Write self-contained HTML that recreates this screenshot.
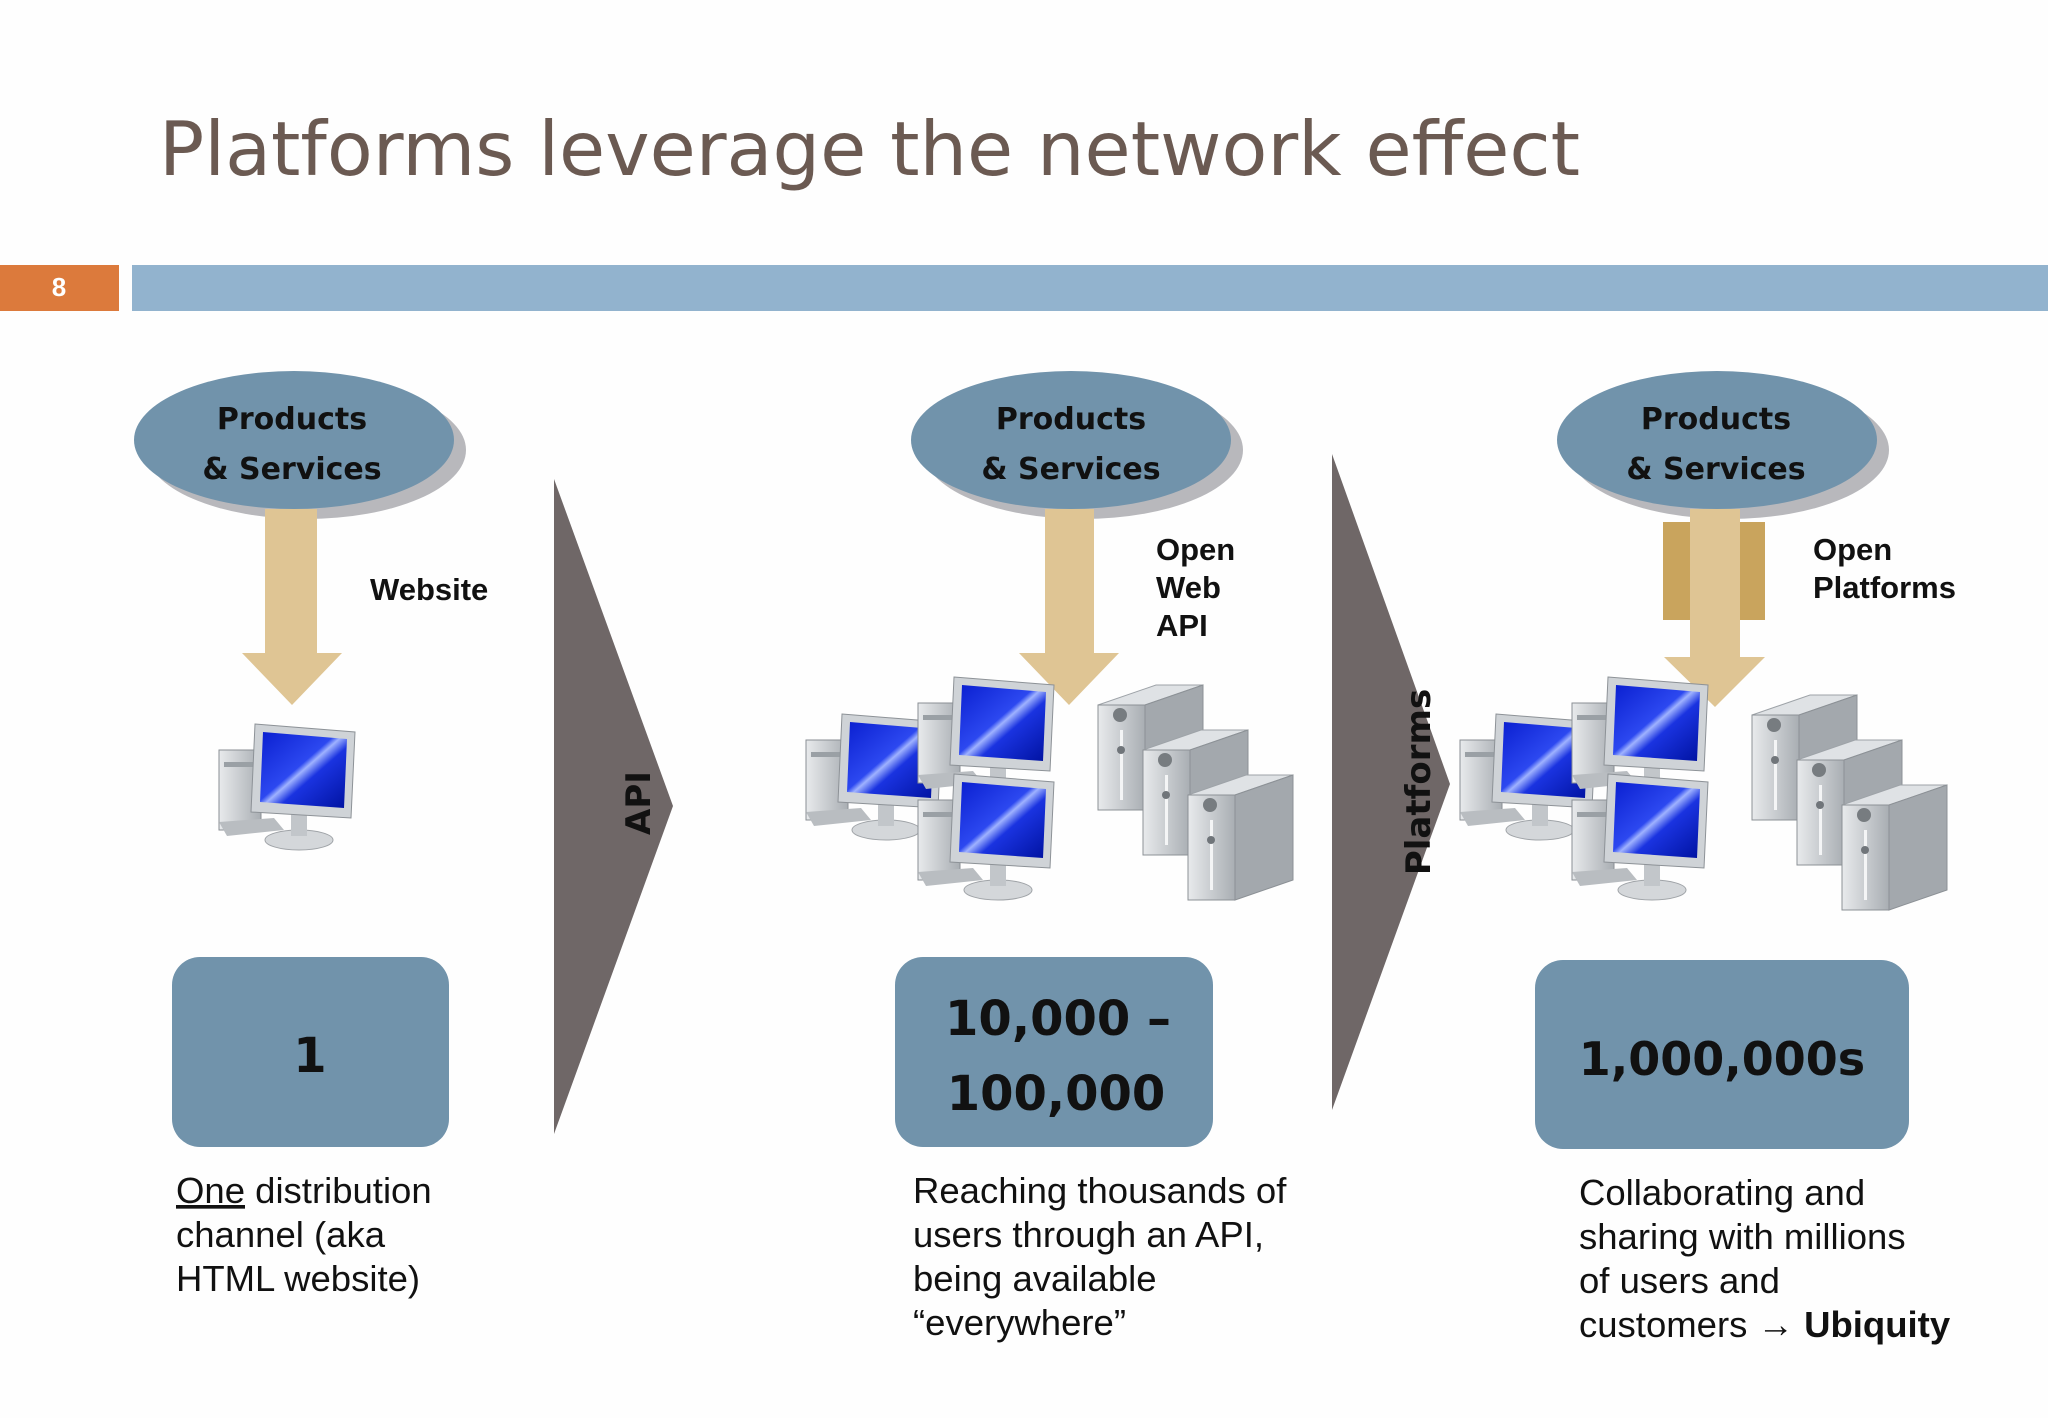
<!DOCTYPE html>
<html><head><meta charset="utf-8"><style>
html,body{margin:0;padding:0;background:#fff}
svg{display:block}
</style></head><body>
<svg width="2048" height="1418" viewBox="0 0 2048 1418" xmlns="http://www.w3.org/2000/svg">
<defs>
<linearGradient id="scr" x1="0" y1="0" x2="1" y2="1">
<stop offset="0" stop-color="#0a1fd0"/><stop offset="0.45" stop-color="#2c48f0"/><stop offset="0.5" stop-color="#9fb2ff"/><stop offset="0.6" stop-color="#1a33e0"/><stop offset="1" stop-color="#0012a0"/>
</linearGradient>
<linearGradient id="gry" x1="0" y1="0" x2="1" y2="0">
<stop offset="0" stop-color="#e8eaec"/><stop offset="1" stop-color="#a9aeb3"/>
</linearGradient>
<g id="comp">
<rect x="0" y="28" width="42" height="80" fill="url(#gry)" stroke="#8a8f94" stroke-width="1"/>
<rect x="5" y="40" width="30" height="5" fill="#9aa0a5"/>
<ellipse cx="80" cy="118" rx="34" ry="10" fill="#d4d7da" stroke="#a0a4a8"/>
<rect x="72" y="92" width="16" height="22" fill="#c2c6ca"/>
<polygon points="36,2 136,10 132,96 32,90" fill="#cfd3d7" stroke="#8d9297"/>
<polygon points="44,10 128,17 125,86 41,80" fill="url(#scr)"/>
<polygon points="0,100 55,96 65,108 8,114" fill="#b9bdc1"/>
</g>
<g id="srv">
<polygon points="0,25 58,5 105,5 47,25" fill="#dfe2e5" stroke="#9ea3a8"/>
<polygon points="47,25 105,5 105,110 47,130" fill="#a3a8ad" stroke="#8c9196"/>
<rect x="0" y="25" width="47" height="105" fill="url(#gry)" stroke="#8c9196"/>
<circle cx="22" cy="35" r="7" fill="#777c80"/>
<rect x="22" y="50" width="3" height="70" fill="#f4f5f6"/>
<circle cx="23" cy="70" r="4" fill="#70757a"/>
</g>
</defs>
<rect width="2048" height="1418" fill="#fefefe"/>
<text x="159" y="175" font-family="'DejaVu Sans','Liberation Sans',sans-serif" font-size="75" fill="#6b5a52">Platforms leverage the network effect</text>
<rect x="0" y="265" width="119" height="46" fill="#dc7a3c"/>
<text x="59" y="296" font-family="'Liberation Sans',sans-serif" font-weight="bold" font-size="26" fill="#fff" text-anchor="middle">8</text>
<rect x="132" y="265" width="1916" height="46" fill="#92b3ce"/>

<g font-family="'DejaVu Sans','Liberation Sans',sans-serif" font-weight="bold" font-size="30" fill="#111" text-anchor="middle">
<ellipse cx="306" cy="450" rx="160" ry="69" fill="#b8b8bc"/>
<ellipse cx="294" cy="440" rx="160" ry="69" fill="#7193ab"/>
<text x="292" y="429">Products</text><text x="292" y="479">&amp; Services</text>
<ellipse cx="1083" cy="450" rx="160" ry="69" fill="#b8b8bc"/>
<ellipse cx="1071" cy="440" rx="160" ry="69" fill="#7193ab"/>
<text x="1071" y="429">Products</text><text x="1071" y="479">&amp; Services</text>
<ellipse cx="1729" cy="450" rx="160" ry="69" fill="#b8b8bc"/>
<ellipse cx="1717" cy="440" rx="160" ry="69" fill="#7193ab"/>
<text x="1716" y="429">Products</text><text x="1716" y="479">&amp; Services</text>
</g>

<g fill="#dfc594">
<polygon points="265,509 317,509 317,653 342,653 292,705 242,653 265,653"/>
<polygon points="1045,509 1094,509 1094,653 1119,653 1069,705 1019,653 1045,653"/>
<rect x="1663" y="522" width="102" height="98" fill="#c9a45d"/>
<polygon points="1690,509 1740,509 1740,657 1765,657 1715,707 1664,657 1690,657"/>
</g>

<polygon points="554,479 673,806 554,1134" fill="#6f6767"/>
<polygon points="1332,454 1450,784 1332,1110" fill="#6f6767"/>
<text transform="translate(650,803) rotate(-90)" font-family="'DejaVu Sans','Liberation Sans',sans-serif" font-weight="bold" font-size="34" fill="#111" text-anchor="middle">API</text>
<text transform="translate(1430,782) rotate(-90)" font-family="'DejaVu Sans','Liberation Sans',sans-serif" font-weight="bold" font-size="34" fill="#111" text-anchor="middle">Platforms</text>

<g font-family="'Liberation Sans',sans-serif" font-weight="bold" font-size="31" fill="#111">
<text x="370" y="600">Website</text>
<text x="1156" y="560">Open</text><text x="1156" y="598">Web</text><text x="1156" y="636">API</text>
<text x="1813" y="560">Open</text><text x="1813" y="598">Platforms</text>
</g>

<use href="#comp" x="219" y="722"/>
<use href="#comp" x="806" y="712"/>
<use href="#comp" x="918" y="675"/>
<use href="#comp" x="918" y="772"/>
<use href="#srv" x="1098" y="680"/>
<use href="#srv" x="1143" y="725"/>
<use href="#srv" x="1188" y="770"/>
<use href="#comp" x="1460" y="712"/>
<use href="#comp" x="1572" y="675"/>
<use href="#comp" x="1572" y="772"/>
<use href="#srv" x="1752" y="690"/>
<use href="#srv" x="1797" y="735"/>
<use href="#srv" x="1842" y="780"/>

<g font-family="'DejaVu Sans','Liberation Sans',sans-serif" font-weight="bold" font-size="48" fill="#111" text-anchor="middle">
<rect x="172" y="957" width="277" height="190" rx="28" fill="#7193ab"/>
<text x="310" y="1072">1</text>
<rect x="895" y="957" width="318" height="190" rx="28" fill="#7193ab"/>
<text x="1058" y="1035">10,000 –</text><text x="1056" y="1110">100,000</text>
<rect x="1535" y="960" width="374" height="189" rx="28" fill="#7193ab"/>
<text x="1722" y="1075" font-size="46">1,000,000s</text>
</g>

<g font-family="'Liberation Sans',sans-serif" font-size="36.5" fill="#111">
<text x="176" y="1203"><tspan text-decoration="underline">One</tspan> distribution</text>
<text x="176" y="1247">channel (aka</text>
<text x="176" y="1291">HTML website)</text>
<text x="913" y="1203">Reaching thousands of</text>
<text x="913" y="1247">users through an API,</text>
<text x="913" y="1291">being available</text>
<text x="913" y="1335">“everywhere”</text>
<text x="1579" y="1205">Collaborating and</text>
<text x="1579" y="1249">sharing with millions</text>
<text x="1579" y="1293">of users and</text>
<text x="1579" y="1337">customers <tspan font-weight="bold">→ Ubiquity</tspan></text>
</g>
</svg>
</body></html>
